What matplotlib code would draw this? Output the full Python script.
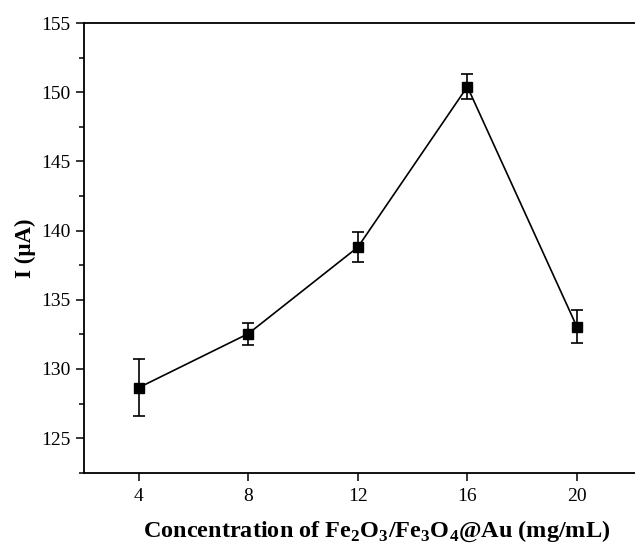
import matplotlib.pyplot as plt
from matplotlib.ticker import MultipleLocator

conc = [4, 8, 12, 16, 20]
current = [128.65, 132.55, 138.8, 150.4, 133.05]
err = [2.05, 0.8, 1.1, 0.9, 1.2]
xticks = [4, 8, 12, 16, 20]

plt.rcParams['font.family'] = ['Liberation Serif', 'DejaVu Serif']
plt.rcParams['mathtext.fontset'] = 'custom'
plt.rcParams['mathtext.rm'] = 'Liberation Serif'
plt.rcParams['mathtext.bf'] = 'Liberation Serif:bold'

fig = plt.figure(figsize=(6.35, 5.5), dpi=100)
# axes runs past the right edge of the figure, as in the cropped original
ax = fig.add_axes([0.1323, 0.1405, 0.9228, 0.8176])

ax.errorbar(conc, current, yerr=err, color='black', marker='s', markersize=7,
            linewidth=1.2, elinewidth=1.2, capsize=4, capthick=1.2)

ax.set_xlim(2, 23.4)
ax.set_ylim(122.5, 155)
ax.set_xticks(xticks)
ax.yaxis.set_major_locator(MultipleLocator(5))
ax.yaxis.set_minor_locator(MultipleLocator(2.5))
ax.tick_params(axis='both', which='major', direction='out', length=6, width=1.1, labelsize=14)
ax.tick_params(axis='x', which='major', pad=5)
ax.tick_params(axis='y', which='minor', direction='out', length=3.5, width=1.1)
for s in ax.spines.values():
    s.set_linewidth(1.3)
ax.spines['right'].set_visible(False)

ax.set_ylabel('I (μA)', fontsize=16.5, fontweight='bold', labelpad=4)
ax.set_xlabel(r'Concentration of Fe$_\mathbf{2}$O$_\mathbf{3}$/Fe$_\mathbf{3}$O$_\mathbf{4}$@Au (mg/mL)',
              fontsize=17.5, fontweight='bold', labelpad=10)

fig.savefig('out.png', dpi=100)
